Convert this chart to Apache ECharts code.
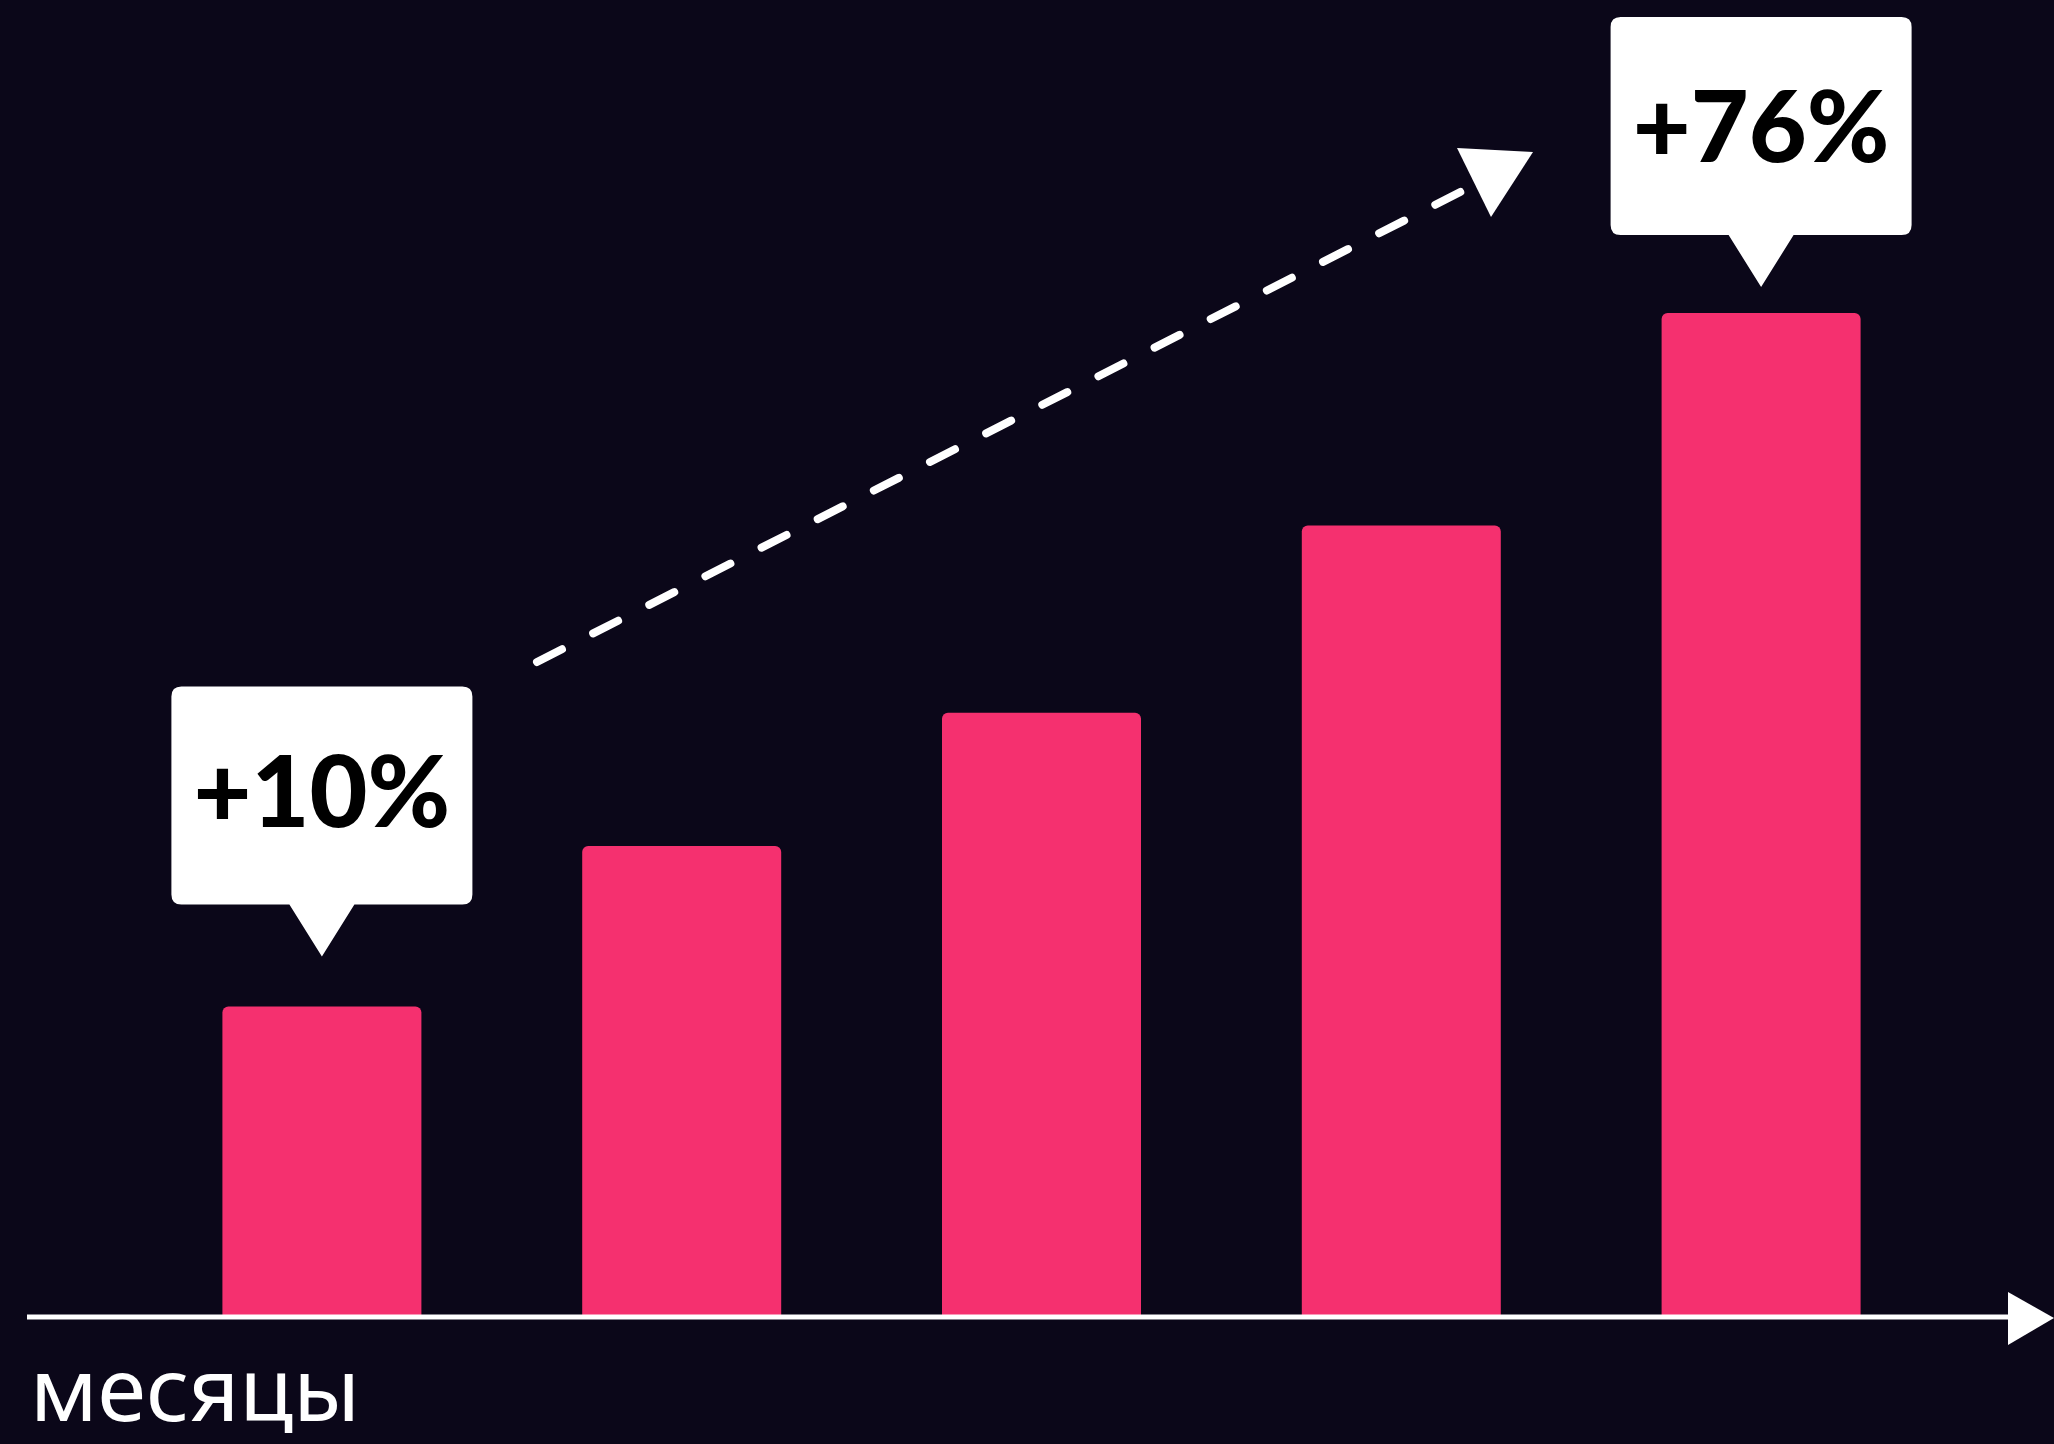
<!DOCTYPE html>
<html>
<head>
<meta charset="utf-8">
<script src="https://cdn.jsdelivr.net/npm/echarts@6/dist/echarts.min.js"></script>
<style>
  html, body { margin: 0; padding: 0; background: #0b0719; }
  #chart { width: 2054px; height: 1444px; }
</style>
</head>
<body>
<div id="chart"></div>
<script>
// ---- data ----
const months = ['1', '2', '3', '4', '5'];
const growth = [30.8, 46.8, 60.1, 78.8, 100];
const calloutIndex = [0, 4];
const calloutText = ['+10%', '+76%'];
const axisName = 'месяцы';

// callout bubble shape (box with pointer at bottom)
const bubble = 'path://M10,0 H291 Q301,0 301,10 V208 Q301,218 291,218 H183 L150.5,270 L118,218 H10 Q0,218 0,208 V10 Q0,0 10,0 Z';
const gaps = [50, 26];         // gap between pointer tip and bar top
const textShift = [-27, -22];  // label shift inside bubble

const chart = echarts.init(document.getElementById('chart'), null, { renderer: 'canvas' });

const labelFont = {
  color: '#000000',
  fontFamily: 'Lato',
  fontWeight: 900,
  fontSize: 100
};

const option = {
  backgroundColor: '#0b0719',
  animation: false,
  grid: { left: 142, right: 113, top: 313, bottom: 129 },
  xAxis: {
    type: 'category',
    data: months,
    axisLine: { show: false },
    axisTick: { show: false },
    axisLabel: { show: false },
    splitLine: { show: false }
  },
  yAxis: {
    type: 'value',
    min: 0,
    max: 100,
    show: false,
    splitLine: { show: false }
  },
  series: [{
    type: 'bar',
    data: growth,
    barWidth: 199,
    itemStyle: { color: '#f5306f', borderRadius: [6, 6, 0, 0] },
    markPoint: {
      symbol: bubble,
      symbolSize: [301, 270],
      itemStyle: { color: '#ffffff' },
      label: Object.assign({ show: true, position: 'inside' }, labelFont),
      data: calloutIndex.map((idx, k) => ({
        coord: [idx, growth[idx]],
        symbolOffset: [0, -(135 + gaps[k])],
        label: Object.assign({ show: true, position: 'inside', formatter: calloutText[k], offset: [0, textShift[k]] }, labelFont)
      }))
    }
  }],
  graphic: [
    // x-axis line with arrow
    {
      type: 'line',
      shape: { x1: 27, y1: 1317, x2: 2010, y2: 1317 },
      style: { stroke: '#ffffff', lineWidth: 5 },
      z: 10
    },
    {
      type: 'polygon',
      shape: { points: [[2008, 1292], [2054, 1318], [2008, 1345]] },
      style: { fill: '#ffffff' },
      z: 10
    },
    // dashed trend arrow
    {
      type: 'line',
      shape: { x1: 537, y1: 662, x2: 1478, y2: 183 },
      style: { stroke: '#ffffff', lineWidth: 8, lineDash: [28, 35], lineCap: 'round' },
      z: 10
    },
    {
      type: 'polygon',
      shape: { points: [[1457, 148], [1533, 152], [1491, 217]] },
      style: { fill: '#ffffff' },
      z: 10
    },
    // axis name
    {
      type: 'text',
      left: 30,
      top: 1352,
      style: {
        text: axisName,
        fill: '#ffffff',
        fontFamily: 'Noto Sans',
        fontSize: 88,
        fontWeight: 'normal'
      },
      z: 10
    }
  ]
};

chart.setOption(option);
</script>
</body>
</html>
